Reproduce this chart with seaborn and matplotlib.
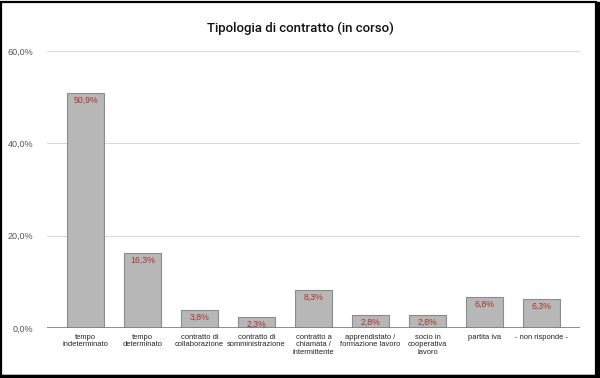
import matplotlib
matplotlib.use("Agg")
import matplotlib.pyplot as plt
import seaborn as sns
import pandas as pd
from matplotlib.patches import Rectangle

categories = ["tempo\nindeterminato", "tempo\ndeterminato", "contratto di\ncollaborazione",
              "contratto di\nsomministrazione", "contratto a\nchiamata /\nintermittente",
              "apprendistato /\nformazione lavoro", "socio in\ncooperativa\nlavoro",
              "partita iva", "- non risponde -"]
values = [50.9, 16.3, 3.8, 2.3, 8.3, 2.8, 2.8, 6.8, 6.3]
yticks = [0, 20, 40, 60]
ytick_labels = ["0,0%", "20,0%", "40,0%", "60,0%"]
title = "Tipologia di contratto (in corso)"

sns.set_style("white")
plt.rcParams['font.family'] = ['Liberation Sans', 'DejaVu Sans']

df = pd.DataFrame({"cat": categories, "val": values})
fig = plt.figure(figsize=(6, 3.78), dpi=100)
ax = fig.add_axes([47/600, 1-328/378, 533/600, (328-51)/378])
sns.barplot(data=df, x="cat", y="val", color="#b7b7b7", saturation=1, width=0.65,
            edgecolor="#8c8c8c", linewidth=0.8, ax=ax, zorder=3)
ax.set_xlim(-0.68, 8.68)
ax.set_ylim(0, 60)
ax.set_yticks(yticks)
ax.set_yticklabels(ytick_labels, fontsize=6.5, color="#555555")
ax.tick_params(axis="x", labelsize=5.4, colors="#222222", length=0, pad=4)
for lbl in ax.get_xticklabels():
    lbl.set_linespacing(1.1)
ax.tick_params(axis="y", length=0, pad=10)
ax.set_xlabel("")
ax.set_ylabel("")
ax.grid(axis="y", color="#d9d9d9", linewidth=0.8, zorder=0)
for s in ax.spines.values():
    s.set_visible(False)
ax.axhline(0, color="#7a7a7a", linewidth=1.2, zorder=4)

for p, v in zip(ax.patches, values):
    ax.text(p.get_x() + p.get_width()/2, p.get_height() - 0.6,
            f"{v:.1f}%".replace(".", ","), ha="center", va="top",
            fontsize=6.3, color="#a83232", zorder=5)

fig.text(0.5, 1-28/378, title, ha="center", va="center", fontsize=9.5,
         color="#111111", family=['Roboto', 'DejaVu Sans'], weight='medium')

# frame
fig.patches.append(Rectangle((0.002, 0.004), 0.992, 0.992, transform=fig.transFigure,
                             fill=False, edgecolor="black", linewidth=1.6, figure=fig))
fig.patches.append(Rectangle((0.994, 0.0), 0.006, 0.996, transform=fig.transFigure,
                             color="black", figure=fig))
fig.patches.append(Rectangle((0.0, 0.0), 1.0, 0.008, transform=fig.transFigure,
                             color="black", figure=fig))

fig.savefig("out.png", dpi=100)
